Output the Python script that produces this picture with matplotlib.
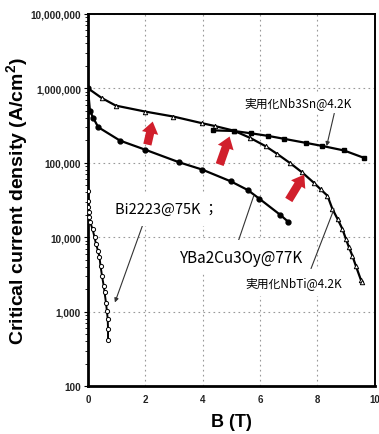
import matplotlib
matplotlib.use("Agg")
from matplotlib import pyplot as plt
from matplotlib.ticker import FixedLocator, LogLocator, NullFormatter

# --- data ---
nbti_b = [0, 0.48, 0.97, 1.99, 2.98, 3.97, 4.44, 5.08, 5.66, 6.19, 6.6, 7.06,
          7.47, 7.87, 8.11, 8.35, 8.52, 8.70, 8.87, 8.99, 9.10, 9.22, 9.34, 9.51, 9.57]
nbti_jc = [1.0e6, 7.4e5, 5.85e5, 4.87e5, 4.17e5, 3.4e5, 3.1e5, 2.7e5, 2.15e5, 1.67e5,
           1.31e5, 9.8e4, 7.4e4, 5.4e4, 4.4e4, 3.6e4, 2.4e4, 1.76e4, 1.29e4, 9.5e3,
           7.3e3, 5.6e3, 4.1e3, 2.7e3, 2.5e3]

nb3sn_b = [4.35, 5.08, 5.70, 6.29, 6.85, 7.59, 8.17, 8.93, 9.63]
nb3sn_jc = [2.72e5, 2.67e5, 2.48e5, 2.29e5, 2.09e5, 1.85e5, 1.68e5, 1.46e5, 1.16e5]

ybco_b = [0, 0.07, 0.19, 0.36, 1.12, 1.99, 3.19, 3.98, 4.99, 5.57, 5.97, 6.70, 6.99]
ybco_jc = [1.0e6, 5.0e5, 3.96e5, 3.0e5, 1.98e5, 1.5e5, 1.01e5, 8.1e4, 5.6e4, 4.3e4,
           3.3e4, 2.0e4, 1.6e4]

bi_b = [0, 0, 0, 0.02, 0.05, 0.08, 0.16, 0.23, 0.28, 0.35, 0.40, 0.44, 0.49, 0.55,
        0.58, 0.63, 0.66, 0.69, 0.70, 0.70]
bi_jc = [4.18e4, 3.07e4, 2.55e4, 2.16e4, 1.85e4, 1.58e4, 1.29e4, 9.97e3, 8.1e3, 6.6e3,
         5.5e3, 4.1e3, 3.04e3, 2.23e3, 1.82e3, 1.31e3, 1.03e3, 796, 588, 422]

y_ticks = [100, 1000, 10000, 100000, 1000000, 10000000]
y_labels = ["100", "1,000", "10,000", "100,000", "1,000,000", "10,000,000"]
x_ticks = [0, 2, 4, 6, 8, 10]

# red "improvement" arrows: (tail B, tail Jc, tip B, tip Jc)
red_arrows = [(2.05, 1.61e5, 2.28, 3.88e5),
              (4.56, 8.7e4, 4.97, 2.44e5),
              (6.95, 2.94e4, 7.59, 7.45e4)]

plt.rcParams['font.family'] = ['Liberation Sans', 'DejaVu Sans']
plt.rcParams['mathtext.fontset'] = 'custom'
plt.rcParams['mathtext.bf'] = 'Liberation Sans:bold'
plt.rcParams['mathtext.rm'] = 'Liberation Sans:bold'
lab_font = ['Noto Sans CJK JP', 'DejaVu Sans']

fig = plt.figure(figsize=(3.79, 4.35), dpi=100)
ax = fig.add_axes([0.232, 0.110, 0.757, 0.856])

ax.plot(nbti_b, nbti_jc, '-^', color='black', lw=1.6, ms=3.2, mfc='white', mew=0.7, zorder=4)
ax.plot(nb3sn_b, nb3sn_jc, '-s', color='black', lw=1.6, ms=3.5, zorder=4)
ax.plot(ybco_b, ybco_jc, '-o', color='black', lw=1.6, ms=3.5, zorder=4)
ax.plot(bi_b, bi_jc, '-o', color='black', lw=1.4, ms=3.0, mfc='white', mew=0.7, zorder=4)

for tb, tj, hb, hj in red_arrows:
    ax.annotate('', xy=(hb, hj), xytext=(tb, tj),
                arrowprops=dict(arrowstyle='simple,head_length=0.7,head_width=1.0,tail_width=0.5',
                                color='#d11f2c', mutation_scale=12, lw=0),
                zorder=6)

box = dict(facecolor='white', edgecolor='none', pad=3)
thin = dict(arrowstyle='-|>', color='#333333', lw=0.8, mutation_scale=6, shrinkA=0, shrinkB=0)

ax.annotate('実用化Nb3Sn@4.2K', xy=(8.32, 1.67e5), xytext=(7.31, 6.4e5),
            fontsize=8.5, family=lab_font, ha='center', va='center', bbox=box,
            arrowprops=dict(thin, relpos=(0.85, 0.0)), zorder=5)
ax.annotate('Bi2223@75K ；', xy=(0.94, 1.33e3), xytext=(0.94, 2.39e4),
            fontsize=10.5, family=lab_font, ha='left', va='center',
            bbox=dict(facecolor='white', edgecolor='none', pad=7),
            arrowprops=dict(thin, relpos=(0.3, 0.0)), zorder=5)
ax.annotate('YBa2Cu3Oy@77K', xy=(5.78, 3.6e4), xytext=(3.22, 5.42e3),
            fontsize=11, family=lab_font, ha='left', va='center',
            bbox=dict(facecolor='white', edgecolor='none', pad=6),
            arrowprops=dict(thin, arrowstyle='-', relpos=(0.45, 1.0)), zorder=5)
ax.annotate('実用化NbTi@4.2K', xy=(8.58, 2.4e4), xytext=(5.49, 2.5e3),
            fontsize=8.5, family=lab_font, ha='left', va='center',
            bbox=dict(facecolor='white', edgecolor='none', pad=5),
            arrowprops=dict(thin, arrowstyle='-', relpos=(0.65, 1.0)), zorder=5)

ax.set_yscale('log')
ax.set_xlim(0, 10)
ax.set_ylim(100, 1e7)
ax.yaxis.set_major_locator(FixedLocator(y_ticks))
ax.set_yticklabels(y_labels)
ax.yaxis.set_minor_locator(LogLocator(base=10, subs=range(2, 10)))
ax.yaxis.set_minor_formatter(NullFormatter())
ax.set_xticks(x_ticks)
ax.set_xticklabels([str(v) for v in x_ticks])
for lbl in ax.get_yticklabels():
    lbl.set_fontsize(7.2)
for lbl in ax.get_xticklabels():
    lbl.set_fontsize(7)
for lbl in ax.get_yticklabels() + ax.get_xticklabels():
    lbl.set_fontweight('bold')
    lbl.set_color('#222222')
ax.tick_params(axis='y', which='major', length=3, width=0.8, direction='out', pad=2)
ax.tick_params(axis='y', which='minor', length=2, width=0.6, direction='out')
ax.tick_params(axis='x', length=0, pad=6)

ax.grid(True, which='major', linestyle=(0, (1.5, 3)), color='#999999', lw=0.8)

for side in ['left', 'bottom']:
    ax.spines[side].set_linewidth(2.0)
for side in ['top', 'right']:
    ax.spines[side].set_linewidth(1.4)

ax.set_ylabel('Critical current density (A/cm$^{\\mathbf{2}}$)', fontsize=14,
              fontweight='bold')
ax.yaxis.set_label_coords(-0.20, 0.5)
ax.set_xlabel('B (T)', fontsize=13, fontweight='bold', labelpad=6)

fig.savefig('out.png', dpi=100)
